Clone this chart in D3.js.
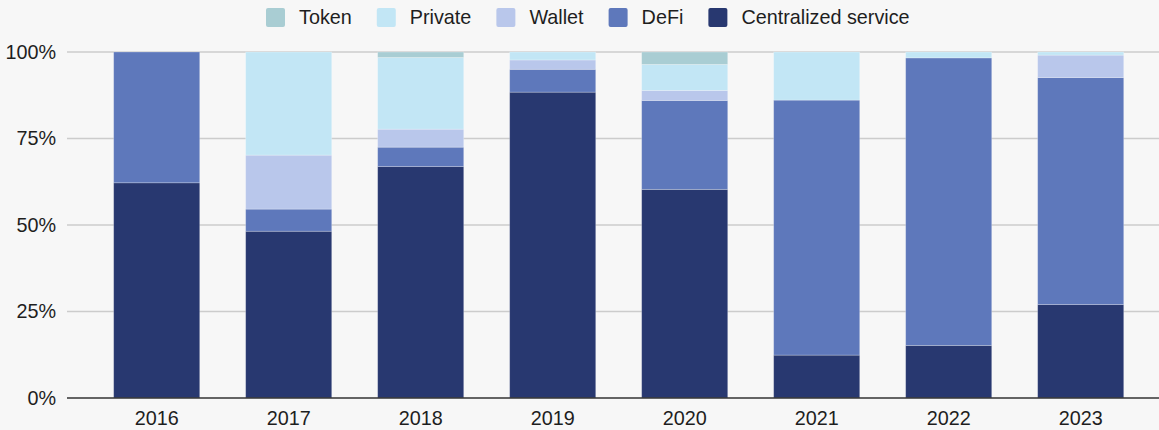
<!DOCTYPE html>
<html>
<head>
<meta charset="utf-8">
<script src="https://cdn.jsdelivr.net/npm/d3@7"></script>
<style>
  body { margin: 0; background: #f7f7f7; }
  svg { display: block; font-family: "Liberation Sans", Arial, Helvetica, sans-serif; }
</style>
</head>
<body>
<script>
// share of each category per year (%)
var years = ["2016", "2017", "2018", "2019", "2020", "2021", "2022", "2023"];
var centralized = [62.2, 48.2, 66.9, 88.4, 60.3, 12.4, 15.2, 27.0];
var defi        = [37.8,  6.4,  5.6,  6.6, 25.7, 73.7, 83.1, 65.6];
var wallet      = [ 0.0, 15.6,  5.2,  2.7,  2.9,  0.0,  0.0,  6.5];
var priv        = [ 0.0, 29.8, 20.7,  2.3,  7.5, 13.9,  1.7,  0.9];
var token       = [ 0.0,  0.0,  1.6,  0.0,  3.6,  0.0,  0.0,  0.0];
var yTicks = [0, 25, 50, 75, 100];

var seriesNames = ["Centralized service", "DeFi", "Wallet", "Private", "Token"];
var seriesValues = [centralized, defi, wallet, priv, token];
var colors = ["#283870", "#5e78bb", "#b9c7eb", "#c2e6f5", "#a9cdd3"];
var legendOrder = ["Token", "Private", "Wallet", "DeFi", "Centralized service"];

function draw()
{
    var width = 1159, height = 430;
    var fs = 19.8;
    var svg = d3.select("body").append("svg")
        .attr("width", width)
        .attr("height", height);

    var rows = years.map(function (y, i) {
        var r = { year: y };
        seriesNames.forEach(function (s, j) { r[s] = seriesValues[j][i]; });
        return r;
    });
    var stacked = d3.stack().keys(seriesNames)(rows);

    var x = d3.scaleBand().domain(years).range([90.7, 1146.7]).paddingInner(0.348).paddingOuter(0.174);
    var y = d3.scaleLinear().domain([0, 100]).range([398, 52]);
    var color = d3.scaleOrdinal().domain(seriesNames).range(colors);

    // grid
    svg.append("g").selectAll("line")
        .data(yTicks.filter(function (t) { return t > 0; }))
        .enter().append("line")
        .attr("x1", 67).attr("x2", width)
        .attr("y1", function (d) { return y(d); })
        .attr("y2", function (d) { return y(d); })
        .attr("stroke", "#cccccc").attr("stroke-width", 1.5);

    // y labels
    svg.append("g").selectAll("text")
        .data(yTicks)
        .enter().append("text")
        .attr("x", 56)
        .attr("y", function (d) { return y(d); })
        .attr("dy", "0.35em")
        .attr("text-anchor", "end")
        .attr("font-size", fs)
        .attr("fill", "#1e1e1e")
        .text(function (d) { return d + "%"; });

    // bars
    svg.append("g").selectAll("g")
        .data(stacked)
        .enter().append("g")
        .attr("fill", function (d) { return color(d.key); })
        .selectAll("rect")
        .data(function (d) { return d.filter(function (p) { return p[1] - p[0] > 0; }); })
        .enter().append("rect")
        .attr("x", function (d) { return x(d.data.year); })
        .attr("width", x.bandwidth())
        .attr("y", function (d) { return y(d[1]); })
        .attr("height", function (d) { return y(d[0]) - y(d[1]); })
        .attr("stroke", "rgba(255,255,255,0.3)")
        .attr("stroke-width", 0.8);

    // baseline
    svg.append("line")
        .attr("x1", 67).attr("x2", width)
        .attr("y1", y(0)).attr("y2", y(0))
        .attr("stroke", "#333").attr("stroke-width", 1.5);

    // x labels
    var xAxis = svg.append("g")
        .attr("transform", "translate(0," + y(0) + ")")
        .call(d3.axisBottom(x).tickSize(0).tickPadding(13));
    xAxis.select(".domain").remove();
    xAxis.selectAll("text")
        .attr("font-size", fs)
        .attr("font-family", "Liberation Sans, Arial, sans-serif")
        .attr("fill", "#1e1e1e");

    // legend
    var lg = svg.append("g");
    var lx = 266;
    legendOrder.forEach(function (name) {
        lg.append("rect")
            .attr("x", lx).attr("y", 8)
            .attr("width", 19).attr("height", 19)
            .attr("rx", 2)
            .attr("fill", color(name));
        var t = lg.append("text")
            .attr("x", lx + 33).attr("y", 17.5)
            .attr("dy", "0.35em")
            .attr("font-size", fs)
            .attr("fill", "#1e1e1e")
            .text(name);
        lx += 33 + t.node().getComputedTextLength() + 25;
    });
}
window.onload = draw;
</script>
</body>
</html>
